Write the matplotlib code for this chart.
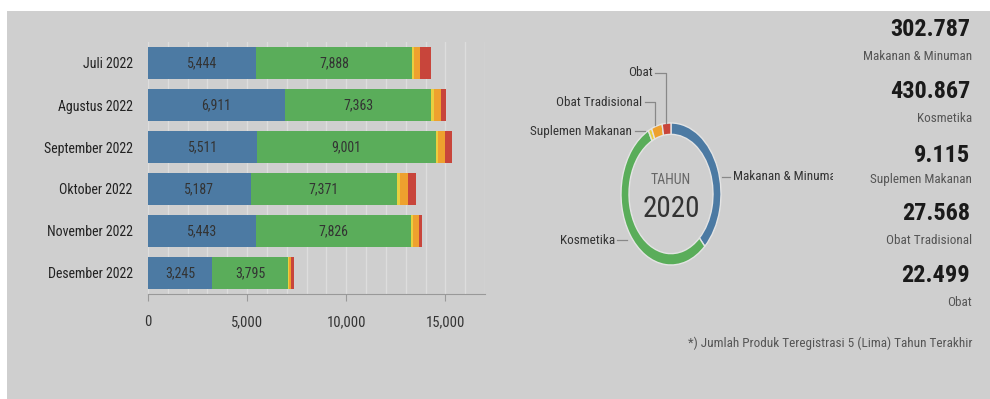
import matplotlib
matplotlib.use("Agg")
import matplotlib.pyplot as plt
from matplotlib import font_manager
from matplotlib.patches import Rectangle
from matplotlib.lines import Line2D
from matplotlib.transforms import Bbox
import numpy as np

# monthly registrations 2022 (stacked bars)
months = ['Juli 2022', 'Agustus 2022', 'September 2022', 'Oktober 2022',
          'November 2022', 'Desember 2022']
makanan = [5444, 6911, 5511, 5187, 5443, 3245]
kosmetika = [7888, 7363, 9001, 7371, 7826, 3795]
suplemen = [80, 135, 117, 135, 100, 67]
obat_trad = [300, 370, 337, 404, 300, 100]
obat = [540, 270, 387, 420, 168, 135]

# totals for the donut / right column
categories = ['Makanan & Minuman', 'Kosmetika', 'Suplemen Makanan',
              'Obat Tradisional', 'Obat']
totals = [302787, 430867, 9115, 27568, 22499]

COLORS = ['#4c7aa3', '#5aad5a', '#e8cf3f', '#eea12e', '#c8453b']
BG = '#cfcfcf'

available = {f.name for f in font_manager.fontManager.ttflist}
FONT = 'DejaVu Sans'
for cand in ['Roboto Condensed', 'Liberation Sans Narrow', 'Open Sans Condensed', 'Roboto']:
    if cand in available:
        FONT = cand
        break
plt.rcParams['font.family'] = [FONT, 'DejaVu Sans']

W, H = 990, 399
fig = plt.figure(figsize=(W / 100, H / 100), dpi=100, facecolor='white')


def fx(x):
    return x / W


def fy(y):
    return 1 - y / H


# grey panel
fig.patches.append(Rectangle((fx(7), 0), 1 - fx(7), fy(11), transform=fig.transFigure,
                             facecolor=BG, edgecolor='none', zorder=-10))

# ---- stacked bar chart ----
ax = fig.add_axes([fx(148), fy(294), fx(485) - fx(148), fy(42) - fy(294)])
ax.set_facecolor('none')
y = np.arange(len(months))
series = [makanan, kosmetika, suplemen, obat_trad, obat]
left = np.zeros(len(months))
for vals, col in zip(series, COLORS):
    ax.barh(y, vals, left=left, height=0.78, color=col, zorder=3)
    left += np.array(vals)

for i in range(len(months)):
    ax.text(makanan[i] / 2, y[i], f"{makanan[i]:,}", ha='center', va='center',
            fontsize=10, color='#333333', zorder=4)
    ax.text(makanan[i] + kosmetika[i] / 2, y[i], f"{kosmetika[i]:,}", ha='center',
            va='center', fontsize=10, color='#333333', zorder=4)

ax.set_xlim(0, 17000)
ax.set_ylim(len(months) - 0.5, -0.5)
ax.set_yticks(y)
ax.set_yticklabels(months, fontsize=10, color='#222222')
ax.set_xticks([0, 5000, 10000, 15000])
ax.set_xticklabels([f"{v:,}" for v in [0, 5000, 10000, 15000]], fontsize=10.5, color='#333333')
ax.set_xticks(np.arange(0, 17001, 1000), minor=True)
ax.grid(True, axis='x', which='both', color='#dddddd', linewidth=1, zorder=0)
ax.tick_params(axis='y', length=0, pad=11)
ax.tick_params(axis='x', which='major', length=5, color='#999999', pad=10)
ax.tick_params(axis='x', which='minor', length=0)
for s in ['left', 'right', 'top']:
    ax.spines[s].set_visible(False)
ax.spines['bottom'].set_color('#999999')

# ---- donut ----
dax = fig.add_axes([fx(621), fy(265), fx(721) - fx(621), fy(123) - fy(265)])
dax.pie(totals, colors=COLORS, startangle=90, counterclock=False, radius=1,
        wedgeprops=dict(width=0.16, edgecolor='#e4e4e4', linewidth=1))
dax.set_aspect('auto')
dax.set_xlim(-1, 1)
dax.set_ylim(-1, 1)
dax.axis('off')

fig.text(fx(671), fy(180), 'TAHUN', ha='center', va='center', fontsize=10, color='#666666')
fig.text(fx(671), fy(209), '2020', ha='center', va='center', fontsize=21, color='#333333')

# donut labels with leader lines
lc = '#888888'
leaders = [
    ('Obat', 653, 73, [(655, 73), (666, 73), (666, 123)]),
    ('Obat Tradisional', 642, 102, [(645, 102), (655, 102), (655, 125)]),
    ('Suplemen Makanan', 632, 131, [(635, 131), (645, 131)]),
    ('Kosmetika', 615, 240, [(617, 240), (627, 240)]),
]
for txt, tx, ty, pts in leaders:
    fig.text(fx(tx), fy(ty), txt, ha='right', va='center', fontsize=9.5, color='#333333')
    fig.lines.append(Line2D([fx(p[0]) for p in pts], [fy(p[1]) for p in pts],
                            transform=fig.transFigure, color=lc, linewidth=0.9))
fig.lines.append(Line2D([fx(722), fx(730)], [fy(177), fy(177)],
                        transform=fig.transFigure, color=lc, linewidth=0.9))
t = fig.text(fx(733), fy(177), 'Makanan & Minuman', ha='left', va='center',
             fontsize=9.5, color='#333333')
t.set_clip_box(Bbox.from_extents(0, 0, 833, H))
t.set_clip_on(True)

# ---- right column ----
num_y = [29, 92, 156, 214, 276]
lab_y = [56, 118, 180, 241, 302]
for v, name, ny, ly in zip(totals, categories, num_y, lab_y):
    fig.text(fx(970), fy(ny), f"{v:,}".replace(',', '.'), ha='right', va='center',
             fontsize=17.5, fontweight='bold', color='#1a1a1a')
    fig.text(fx(972), fy(ly), name, ha='right', va='center', fontsize=9.5, color='#555555')

fig.text(fx(973), fy(343), '*) Jumlah Produk Teregistrasi 5 (Lima) Tahun Terakhir',
         ha='right', va='center', fontsize=9.5, color='#555555')

fig.savefig('out.png', dpi=100, facecolor=fig.get_facecolor())
